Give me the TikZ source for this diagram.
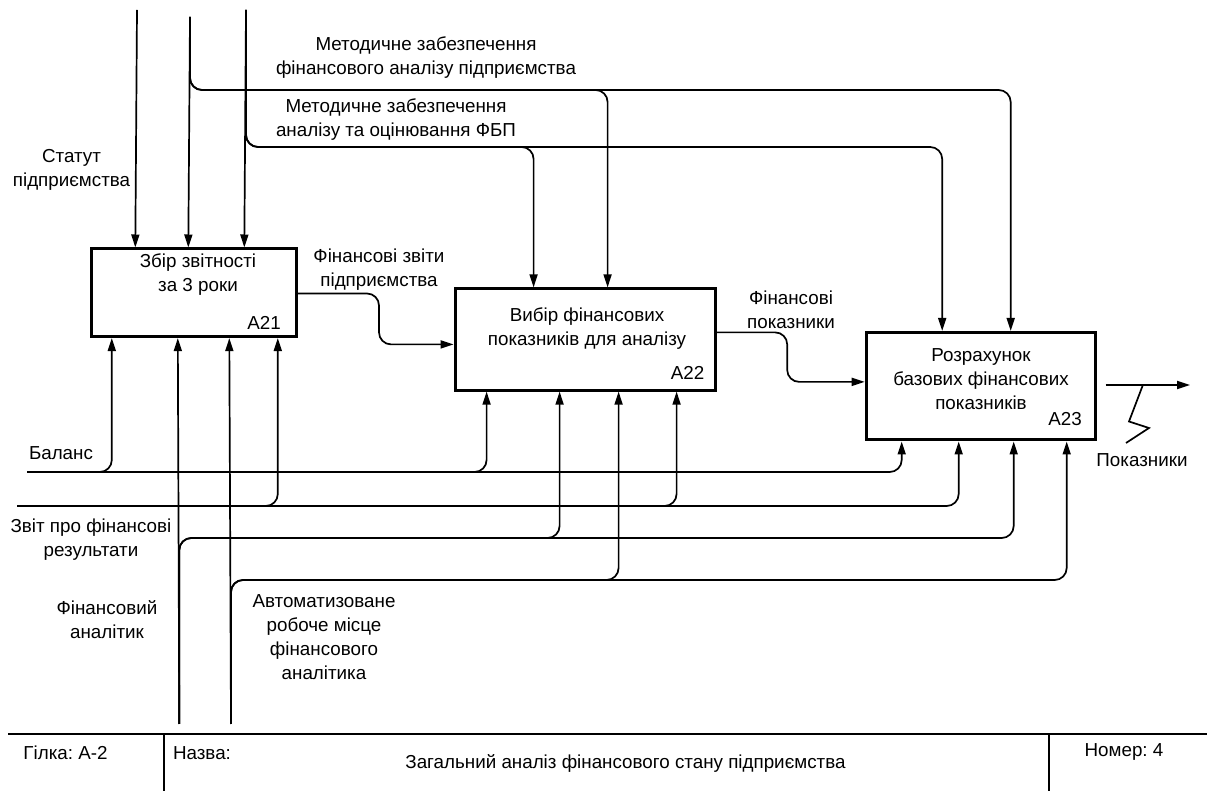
\documentclass[tikz,border=0pt]{standalone}
\usepackage{fontspec}
\setmainfont{Liberation Sans}
\usetikzlibrary{arrows.meta,calc}
\frenchspacing
\newcommand\lbfont{\fontsize{9.4}{12}\selectfont}
\tikzset{
  lbl/.style={font=\lbfont, align=center, inner sep=0pt},
  proc/.style={draw, line width=1.5pt, inner sep=0pt},
  flow/.style={line width=0.85pt, rounded corners=6pt,
    -{Triangle[length=6.5pt,width=4pt]}},
  wire/.style={line width=0.85pt},
}
\begin{document}
\begin{tikzpicture}[x=0.5pt,y=-0.5pt]
\useasboundingbox (0,0) rectangle (1207,791);

% activity boxes
\node[proc, minimum width=102.1pt, minimum height=43.8pt] (A21) at (193.9,292.8) {};
\node[proc, minimum width=130.3pt, minimum height=50.6pt] (A22) at (585.4,339.5) {};
\node[proc, minimum width=114.5pt, minimum height=53.8pt] (A23) at (980.7,386.2) {};

\node[lbl] (A21t) at (198,275) {Збір звітності\\за 3 роки};
\node[lbl] (A21n) at (264,323) {A21};
\node[lbl] (A22t) at (587,328.5) {Вибір фінансових\\показників для аналізу};
\node[lbl] (A22n) at (687.5,373) {A22};
\node[lbl] (A23t) at (981,379) {Розрахунок\\базових фінансових\\показників};
\node[lbl] (A23n) at (1065,419) {A23};

% ports on the boxes
\coordinate (t21a) at ($(A21.north west)+(45,0)$);
\coordinate (t21b) at ($(A21.north west)+(98,0)$);
\coordinate (t21c) at ($(A21.north west)+(154,0)$);
\coordinate (t22a) at ($(A22.north west)+(80,0)$);
\coordinate (t22b) at ($(A22.north west)+(154,0)$);
\coordinate (t23a) at ($(A23.north west)+(77.5,0)$);
\coordinate (t23b) at ($(A23.north west)+(146,0)$);

\coordinate (b21a) at ($(A21.south west)+(21.5,0)$);
\coordinate (b21b) at ($(A21.south west)+(87.5,0)$);
\coordinate (b21c) at ($(A21.south west)+(139,0)$);
\coordinate (b21d) at ($(A21.south west)+(187.5,0)$);
\coordinate (b22a) at ($(A22.south west)+(33,0)$);
\coordinate (b22b) at ($(A22.south west)+(106,0)$);
\coordinate (b22c) at ($(A22.south west)+(165,0)$);
\coordinate (b22d) at ($(A22.south west)+(223,0)$);
\coordinate (b23a) at ($(A23.south west)+(37,0)$);
\coordinate (b23b) at ($(A23.south west)+(94,0)$);
\coordinate (b23c) at ($(A23.south west)+(149,0)$);
\coordinate (b23d) at ($(A23.south west)+(202,0)$);

% free ends and routing levels
\coordinate (st) at (137,10);
\coordinate (m1) at (190,17);
\coordinate (m2) at (246,10);
\coordinate (lvA) at (0,90);
\coordinate (lvB) at (0,147);
\coordinate (bal) at (27,472);
\coordinate (zv) at (17,506);
\coordinate (fa) at (179.3,724);
\coordinate (arm) at (231,724);
\coordinate (lvFa) at (0,538);
\coordinate (lvArm) at (0,580);

% controls from above
\draw[flow] (st) -- (t21a);
\draw[flow] (m1) -- (t21b);
\draw[flow] (m2) -- (t21c);
\draw[flow] (m1) -- (m1 |- lvA) -- (lvA -| t22b) -- (t22b);
\draw[flow] (m1) -- (m1 |- lvA) -- (lvA -| t23b) -- (t23b);
\draw[flow] (m2) -- (m2 |- lvB) -- (lvB -| t22a) -- (t22a);
\draw[flow] (m2) -- (m2 |- lvB) -- (lvB -| t23a) -- (t23a);

% inputs from the left, entering from below
\draw[flow] (bal) -- (bal -| b21a) -- (b21a);
\draw[flow] (bal) -- (bal -| b22a) -- (b22a);
\draw[flow] (bal) -- (bal -| b23a) -- (b23a);
\draw[flow] (zv) -- (zv -| b21d) -- (b21d);
\draw[flow] (zv) -- (zv -| b22d) -- (b22d);
\draw[flow] (zv) -- (zv -| b23b) -- (b23b);

% mechanisms from below
\draw[flow] (fa) -- (b21b);
\draw[flow] (fa) -- (fa |- lvFa) -- (lvFa -| b22b) -- (b22b);
\draw[flow] (fa) -- (fa |- lvFa) -- (lvFa -| b23c) -- (b23c);
\draw[flow] (arm) -- (b21c);
\draw[flow] (arm) -- (arm |- lvArm) -- (lvArm -| b22c) -- (b22c);
\draw[flow] (arm) -- (arm |- lvArm) -- (lvArm -| b23d) -- (b23d);

% flows between the activities
\coordinate (o21) at ($(A21.north east)+(0,46)$);
\coordinate (i22) at ($(A22.north west)+(0,57)$);
\coordinate (o22) at ($(A22.north east)+(0,45)$);
\coordinate (i23) at ($(A23.north west)+(0,51)$);
\draw[flow] (o21) -- ++(81.5,0) |- (i22);
\draw[flow] (o22) -- ++(70,0) |- (i23);

% output
\coordinate (outS) at ($(A23.east)+(9,0)$);
\coordinate (outE) at (1190,385);
\draw[flow] (outS |- outE) -- (outE);
\coordinate (zz) at (1142.7,385.5);
\draw[wire] (zz) -- ++(-13.7,36) -- ++(20,6.5) -- ++(-23,15);

% arrow labels
\node[lbl] (lMet1) at (426,58) {Методичне забезпечення\\фінансового аналізу підприємства};
\node[lbl] (lMet2) at (396,119.5) {Методичне забезпечення\\аналізу та оцінювання ФБП};
\node[lbl] (lStat) at (71.5,170) {Статут\\підприємства};
\node[lbl] (lFz) at (379,270) {Фінансові звіти\\підприємства};
\node[lbl] (lFp) at (791,310) {Фінансові\\показники};
\node[lbl] (lBal) at (61,453) {Баланс};
\node[lbl] (lZv) at (91,540) {Звіт про фінансові\\результати};
\node[lbl] (lFa) at (107,620) {Фінансовий\\аналітик};
\node[lbl] (lArm) at (324,637) {Автоматизоване\\робоче місце\\фінансового\\аналітика};
\node[lbl] (lPok) at (1142,460) {Показники};

% title block
\coordinate (fL) at (8,734);
\coordinate (fR) at (1207,734);
\draw[wire] (fL) -- (fR);
\coordinate (d1) at (164,734);
\coordinate (d2) at (1049,734);
\draw[wire] (d1) -- (164,791);
\draw[wire] (d2) -- (1049,791);
\node[lbl] (fGil) at (65.5,753) {Гілка: A-2};
\node[lbl] (fNaz) at (202,753) {Назва:};
\node[lbl] (fTit) at (625.5,763) {Загальний аналіз фінансового стану підприємства};
\node[lbl] (fNum) at (1124,752) {Номер: 4};
\end{tikzpicture}
\end{document}
